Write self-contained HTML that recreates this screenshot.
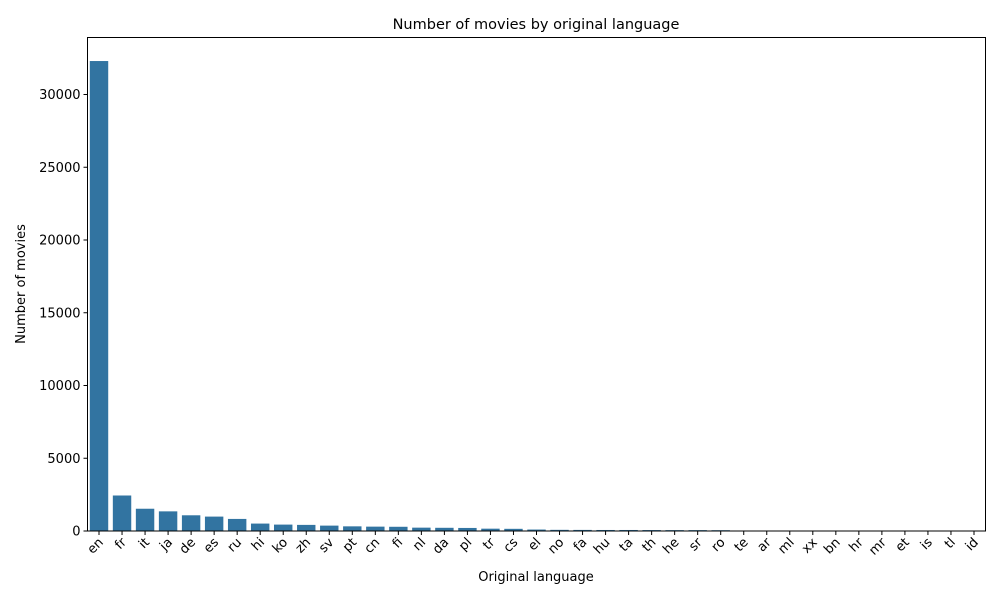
<!DOCTYPE html>
<html><head><meta charset="utf-8"><style>
body{margin:0;background:#fff;font-family:"Liberation Sans","DejaVu Sans",sans-serif}
svg text{font-family:"DejaVu Sans","Liberation Sans",sans-serif}
</style></head><body>
<svg id="chart" width="999" height="599" viewBox="0 0 999 599" xmlns="http://www.w3.org/2000/svg">
<rect width="999" height="599" fill="#fff"/>
<text x="536" y="29" text-anchor="middle" font-size="14.5">Number of movies by original language</text>
<g id="bars"></g><g id="xticks"></g><g id="yticks"></g>
<rect x="87.5" y="37.5" width="898" height="493.5" fill="none" stroke="#000" stroke-width="1"/>
<text x="536" y="581" text-anchor="middle" font-size="13">Original language</text>
<text transform="translate(25,284) rotate(-90)" text-anchor="middle" font-size="13">Number of movies</text>
</svg>
<script>
const categories=["en","fr","it","ja","de","es","ru","hi","ko","zh","sv","pt","cn","fi","nl","da","pl","tr","cs","el","no","fa","hu","ta","th","he","sr","ro","te","ar","ml","xx","bn","hr","mr","et","is","tl","id"];
const counts=[32300,2440,1530,1350,1080,990,830,510,440,420,370,320,300,290,230,220,210,160,150,100,80,75,70,70,65,60,60,55,25,20,20,15,15,12,10,10,8,6,5];
const yTickValues=[0,5000,10000,15000,20000,25000,30000];
const L=87.5,R=985.5,T=37.5,B=531;
const band=(R-L)/categories.length;
const x=i=>L+band*i;
const y=v=>B-v*(B-94.5)/30000;
const ns="http://www.w3.org/2000/svg";
const bars=document.getElementById('bars'),xt=document.getElementById('xticks'),yt=document.getElementById('yticks');
categories.forEach((c,i)=>{
  const r=document.createElementNS(ns,'rect');
  
  
  r.setAttribute('x',x(i)+band*0.1);r.setAttribute('width',band*0.8);
  r.setAttribute('y',y(counts[i]));r.setAttribute('height',B-y(counts[i]));
  r.setAttribute('fill','#3274a1');bars.appendChild(r);
  const cx=x(i)+band/2;
  const l=document.createElementNS(ns,'line');
  
  
  l.setAttribute('x1',cx);l.setAttribute('x2',cx);l.setAttribute('y1',B);l.setAttribute('y2',B+4);l.setAttribute('stroke','#000');xt.appendChild(l);
  const t=document.createElementNS(ns,'text');
  
  
  t.setAttribute('text-anchor','end');t.setAttribute('font-size','13');
  t.setAttribute('transform',`translate(${cx+5},${B+12}) rotate(-45)`);
  t.textContent=c;xt.appendChild(t);
});
yTickValues.forEach(v=>{
  const yy=y(v);
  const l=document.createElementNS(ns,'line');
  
  
  l.setAttribute('x1',L-4);l.setAttribute('x2',L);l.setAttribute('y1',yy);l.setAttribute('y2',yy);l.setAttribute('stroke','#000');yt.appendChild(l);
  const t=document.createElementNS(ns,'text');
  
  
  t.setAttribute('text-anchor','end');t.setAttribute('font-size','13');
  t.setAttribute('x',L-7);t.setAttribute('y',yy+4.5);t.textContent=v;yt.appendChild(t);
});
</script>
</body></html>
